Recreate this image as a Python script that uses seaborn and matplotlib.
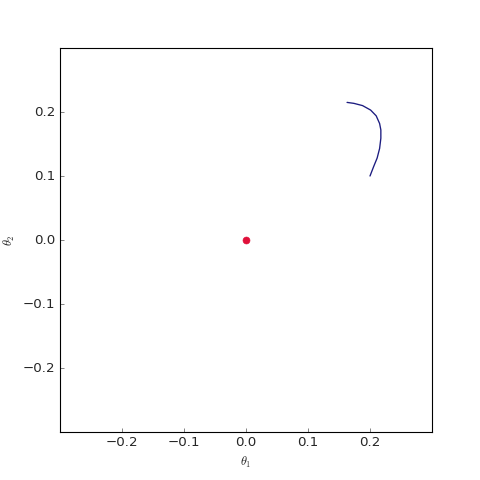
import numpy as np
import pandas as pd
import matplotlib
matplotlib.use("Agg")
import matplotlib.pyplot as plt
import seaborn as sns

theta1_path = [0.163, 0.174, 0.188, 0.201, 0.210, 0.2155, 0.2175, 0.2175, 0.2155, 0.2115, 0.206, 0.200]
theta2_path = [0.215, 0.2135, 0.210, 0.203, 0.194, 0.182, 0.172, 0.159, 0.143, 0.128, 0.115, 0.100]
point_theta1 = [0.0]
point_theta2 = [0.0]

plt.style.use("classic")
sns.set_style("ticks", {"xtick.direction": "in", "ytick.direction": "in"})
plt.rcParams["font.family"] = ["DejaVu Sans"]

fig = plt.figure(figsize=(6, 6), dpi=80, facecolor="white")
ax = fig.add_axes([0.125, 0.1, 0.775, 0.8])

path_df = pd.DataFrame({"t1": theta1_path, "t2": theta2_path})
pt_df = pd.DataFrame({"t1": point_theta1, "t2": point_theta2})

sns.lineplot(data=path_df, x="t1", y="t2", sort=False, estimator=None, errorbar=None,
             color="#1c1c80", lw=1.2, ax=ax)
sns.scatterplot(data=pt_df, x="t1", y="t2", color="#e0103a", s=40, edgecolor="#e0103a", ax=ax, zorder=3)

ax.set_xlim(-0.3, 0.3)
ax.set_ylim(-0.3, 0.3)
ax.set_xticks([-0.2, -0.1, 0.0, 0.1, 0.2])
ax.set_yticks([-0.2, -0.1, 0.0, 0.1, 0.2])
ax.set_xlabel(r"$\theta_1$", fontsize=11)
ax.set_ylabel(r"$\theta_2$", fontsize=11)
ax.tick_params(direction="in", labelsize=12, length=4)
for s in ax.spines.values():
    s.set_visible(True)
    s.set_color("black")
    s.set_linewidth(1.0)

fig.savefig("out.png", dpi=80, facecolor="white")
